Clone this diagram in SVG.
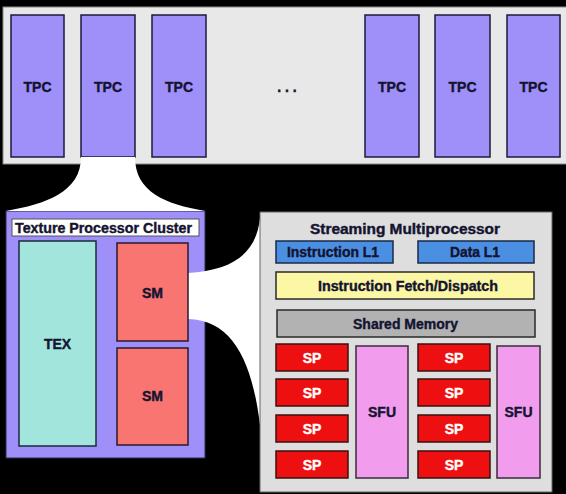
<svg xmlns="http://www.w3.org/2000/svg" width="566" height="494" viewBox="0 0 566 494">
<style>
text{font-family:"Liberation Sans",Arial,sans-serif;font-weight:bold;font-size:14px;text-anchor:middle;dominant-baseline:central;stroke-width:0.4}
.tpc{fill:#9e90f8;stroke:#1a1a3a;stroke-width:1.5}
.dk{fill:#141430;stroke:#141430}
.sp{fill:#ee1010;stroke:#3a1010;stroke-width:1.5}
.spt{fill:#ffffff;stroke:#ffffff;font-size:14px}
.sfu{fill:#f29ced;stroke:#3a2a3a;stroke-width:1.5}
.funnel{fill:#ffffff}
</style>
<rect x="0" y="0" width="566" height="494" fill="#000"/>
<g id="gpu">
<rect x="3" y="7" width="566" height="157" fill="#e8e8e8" stroke="#888" stroke-width="1"/>
<text x="287" y="87" class="dk">. . .</text>
</g>
<g id="tpc1"><rect class="tpc" x="11" y="15" width="53" height="142"/><text x="37.5" y="87" class="dk">TPC</text></g>
<g id="tpc2"><rect class="tpc" x="81" y="15" width="54" height="142"/><text x="108" y="87" class="dk">TPC</text></g>
<g id="tpc3"><rect class="tpc" x="152" y="15" width="54" height="142"/><text x="179" y="87" class="dk">TPC</text></g>
<g id="tpc4"><rect class="tpc" x="365" y="15" width="54" height="142"/><text x="392" y="87" class="dk">TPC</text></g>
<g id="tpc5"><rect class="tpc" x="435" y="15" width="55" height="142"/><text x="462.5" y="87" class="dk">TPC</text></g>
<g id="tpc6"><rect class="tpc" x="507" y="15" width="53" height="142"/><text x="533.5" y="87" class="dk">TPC</text></g>
<g id="tpc-cluster">
<rect x="6" y="211" width="199" height="247" fill="#9e90f8" stroke="#2a2a50" stroke-width="1"/>
<rect x="12" y="219" width="187" height="17" fill="#ffffff" stroke="#555" stroke-width="1"/>
<text x="15" y="228" class="dk" style="text-anchor:start" textLength="177" lengthAdjust="spacingAndGlyphs">Texture Processor Cluster</text>
</g>
<g id="connectors">
<path class="funnel" d="M81,157 L135,157 C135,192 165,204 205,211 L6,211 C46,204 81,192 81,157 Z"/>
<path class="funnel" d="M188,273 C232,270 256,255 260,218 L260,425 C252,360 232,320 188,319 Z"/>
</g>
<g id="tex"><rect x="19" y="241" width="77" height="205" fill="#a2e5dc" stroke="#1a2a3a" stroke-width="1.5"/><text x="57.5" y="344" class="dk">TEX</text></g>
<g id="sm1"><rect x="117" y="243" width="71" height="98" fill="#f87572" stroke="#2a1a2a" stroke-width="1.5"/><text x="152.5" y="293" class="dk">SM</text></g>
<g id="sm2"><rect x="117" y="348" width="71" height="97" fill="#f87572" stroke="#2a1a2a" stroke-width="1.5"/><text x="152.5" y="396" class="dk">SM</text></g>
<g id="sm-detail">
<rect x="260" y="212" width="292" height="280" fill="#dedede" stroke="#666" stroke-width="1"/>
<text x="405" y="229" class="dk" textLength="190" lengthAdjust="spacingAndGlyphs">Streaming Multiprocessor</text>
</g>
<g id="il1"><rect x="276" y="241" width="117" height="22" fill="#4a8fe2" stroke="#1a2a4a" stroke-width="1.5"/><text x="333" y="252" class="dk" textLength="92" lengthAdjust="spacingAndGlyphs">Instruction L1</text></g>
<g id="dl1"><rect x="418" y="241" width="116" height="22" fill="#4a8fe2" stroke="#1a2a4a" stroke-width="1.5"/><text x="475" y="252" class="dk" textLength="50" lengthAdjust="spacingAndGlyphs">Data L1</text></g>
<g id="ifd"><rect x="276" y="272" width="258" height="27" fill="#fbf7a4" stroke="#2a2a2a" stroke-width="1.5"/><text x="408" y="286" class="dk" textLength="180" lengthAdjust="spacingAndGlyphs">Instruction Fetch/Dispatch</text></g>
<g id="smem"><rect x="277" y="310" width="258" height="27" fill="#b2b2b2" stroke="#2a2a2a" stroke-width="1.5"/><text x="405.5" y="324" class="dk" textLength="105" lengthAdjust="spacingAndGlyphs">Shared Memory</text></g>
<g id="sp1"><rect class="sp" x="276" y="344" width="72" height="27"/><text class="spt" x="312" y="357.5">SP</text></g>
<g id="sp2"><rect class="sp" x="276" y="379" width="72" height="27"/><text class="spt" x="312" y="392.5">SP</text></g>
<g id="sp3"><rect class="sp" x="276" y="415" width="72" height="27"/><text class="spt" x="312" y="428.5">SP</text></g>
<g id="sp4"><rect class="sp" x="276" y="451" width="72" height="27"/><text class="spt" x="312" y="464.5">SP</text></g>
<g id="sp5"><rect class="sp" x="418" y="344" width="72" height="27"/><text class="spt" x="454" y="357.5">SP</text></g>
<g id="sp6"><rect class="sp" x="418" y="379" width="72" height="27"/><text class="spt" x="454" y="392.5">SP</text></g>
<g id="sp7"><rect class="sp" x="418" y="415" width="72" height="27"/><text class="spt" x="454" y="428.5">SP</text></g>
<g id="sp8"><rect class="sp" x="418" y="451" width="72" height="27"/><text class="spt" x="454" y="464.5">SP</text></g>
<g id="sfu1"><rect class="sfu" x="356" y="346" width="52" height="132"/><text x="382" y="412" class="dk">SFU</text></g>
<g id="sfu2"><rect class="sfu" x="497" y="346" width="43" height="132"/><text x="518.5" y="412" class="dk">SFU</text></g>
</svg>
